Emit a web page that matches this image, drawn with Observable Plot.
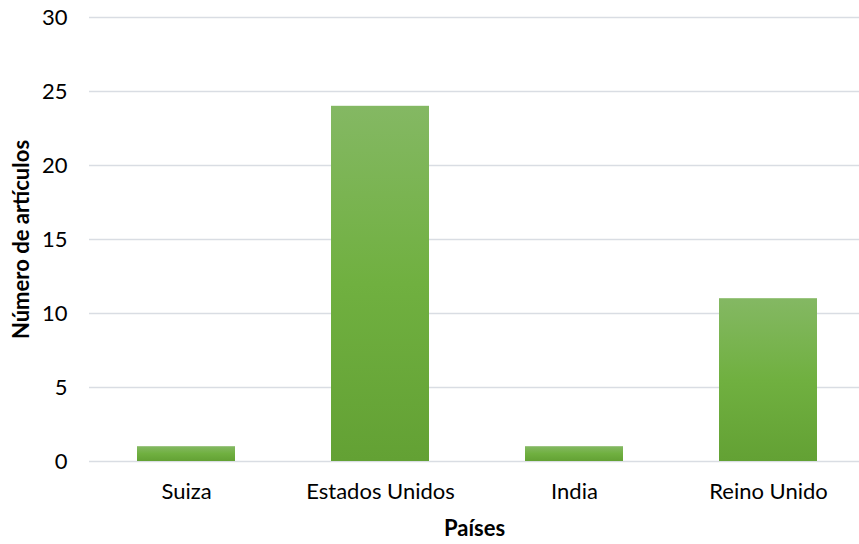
<!DOCTYPE html>
<html>
<head>
<meta charset="utf-8">
<script src="https://cdn.jsdelivr.net/npm/d3@7"></script>
<script src="https://cdn.jsdelivr.net/npm/@observablehq/plot@0.6"></script>
<style>
  html, body { margin: 0; padding: 0; background: #fff; overflow: hidden; }
  svg { display: block; }
</style>
</head>
<body>
<div id="chart"></div>
<script>
const countries = ["Suiza", "Estados Unidos", "India", "Reino Unido"];
const articles = [1, 24, 1, 11];
const yTicks = [0, 5, 10, 15, 20, 25, 30];

const data = countries.map((c, i) => ({country: c, value: articles[i]}));

const gradientDefs = () => {
  const ns = "http://www.w3.org/2000/svg";
  const defs = document.createElementNS(ns, "defs");
  defs.innerHTML = `<linearGradient id="barGrad" x1="0" y1="0" x2="0" y2="1">
      <stop offset="0" stop-color="#84b863"/>
      <stop offset="0.5" stop-color="#70b040"/>
      <stop offset="1" stop-color="#63a134"/>
    </linearGradient>`;
  return defs;
};

const chart = Plot.plot({
  width: 859,
  height: 544,
  marginLeft: 89,
  marginRight: 0,
  marginTop: 17,
  marginBottom: 83,
  style: {fontFamily: "Lato, sans-serif", fontSize: "22px", color: "#000", background: "#fff"},
  x: {domain: countries, range: [89, 865], paddingInner: 0.495, paddingOuter: 0.2475, label: null},
  y: {domain: [0, 30], label: null},
  marks: [
    gradientDefs,
    Plot.ruleY(yTicks, {stroke: "#d9dde3", strokeWidth: 1.6}),
    Plot.barY(data, {x: "country", y: "value", fill: "url(#barGrad)"}),
    Plot.axisY({ticks: yTicks, tickSize: 0, tickPadding: 22, fontSize: 22, label: null}),
    Plot.axisX({tickSize: 0, tickPadding: 22, fontSize: 22, label: null}),
    Plot.text(["Países"], {frameAnchor: "bottom", dy: 74, fontWeight: "bold", fontSize: 22}),
    Plot.text(["Número de artículos"], {frameAnchor: "left", textAnchor: "middle", dx: -68, rotate: -90, fontWeight: "bold", fontSize: 22})
  ]
});
document.getElementById("chart").appendChild(chart);
</script>
</body>
</html>
